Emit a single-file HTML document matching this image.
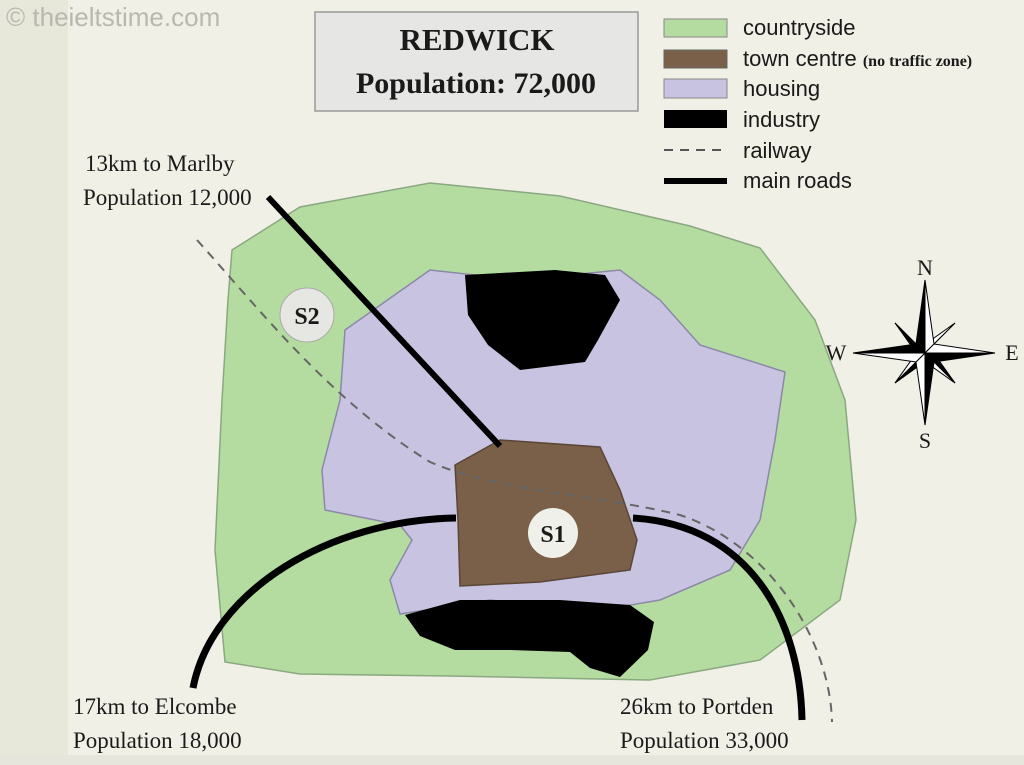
<!DOCTYPE html>
<html><head><meta charset="utf-8"><style>
html,body{margin:0;padding:0;background:#f0f0e6}
svg{display:block}
.sf{font-family:"Liberation Serif",serif;fill:#1a1a1a}
.ss{font-family:"Liberation Sans",sans-serif;fill:#1a1a1a}
</style></head><body>
<svg width="1024" height="765" viewBox="0 0 1024 765" xmlns="http://www.w3.org/2000/svg">
<rect width="1024" height="765" fill="#f0f0e6"/>
<rect width="68" height="765" fill="#e8e8da"/>
<rect y="755" width="1024" height="10" fill="#e6e6dc"/>
<text x="6" y="26" class="ss" style="fill:#b8b8b0" font-size="26">© theieltstime.com</text>
<!-- title -->
<rect x="315" y="12" width="323" height="99" fill="#e6e6e4" stroke="#999" stroke-width="1.5"/>
<text x="477" y="50" class="sf" font-size="31" font-weight="bold" text-anchor="middle">REDWICK</text>
<text x="476" y="93" class="sf" font-size="30" font-weight="bold" text-anchor="middle">Population: 72,000</text>
<!-- legend -->
<rect x="664" y="19" width="63" height="18" fill="#b5dca0" stroke="#888"/>
<rect x="664" y="50" width="63" height="18" fill="#7a6048" stroke="#666"/>
<rect x="664" y="79" width="63" height="19" fill="#c7c3e0" stroke="#888"/>
<rect x="664" y="110" width="63" height="18" fill="#000"/>
<line x1="664" y1="150" x2="727" y2="150" stroke="#555" stroke-width="2" stroke-dasharray="9,7"/>
<line x1="664" y1="181" x2="727" y2="181" stroke="#000" stroke-width="6"/>
<text x="743" y="35" class="ss" font-size="22">countryside</text>
<text x="743" y="66" class="ss" font-size="22">town centre <tspan class="sf" font-size="16" font-weight="bold">(no traffic zone)</tspan></text>
<text x="743" y="96" class="ss" font-size="22">housing</text>
<text x="743" y="127" class="ss" font-size="22">industry</text>
<text x="743" y="158" class="ss" font-size="22">railway</text>
<text x="743" y="188" class="ss" font-size="22">main roads</text>
<!-- countryside -->
<path d="M232,250 L300,207 L430,183 L560,196 L690,226 L760,248 L815,320 L845,400 L856,520 L840,600 L760,660 L650,680 L450,676 L300,674 L225,662 L215,550 L222,400 L228,300 Z" fill="#b5dca0" stroke="#8aa880" stroke-width="1.5"/>
<!-- housing -->
<path d="M345,330 L430,270 L520,280 L620,270 L660,300 L700,345 L785,372 L775,440 L760,520 L730,570 L660,600 L590,612 L490,600 L400,614 L390,580 L412,540 L400,525 L325,510 L322,470 L340,400 Z" fill="#c7c3e0" stroke="#8c88a8" stroke-width="1.5"/>
<!-- industry -->
<path d="M465,275 L555,270 L605,275 L620,300 L598,340 L585,362 L520,370 L488,345 L468,315 Z" fill="#000"/>
<path d="M405,615 L460,600 L560,600 L630,605 L654,622 L648,650 L620,677 L590,668 L570,652 L510,650 L455,650 L420,636 Z" fill="#000"/>
<!-- town centre -->
<path d="M455,465 L500,440 L600,447 L620,490 L637,540 L630,570 L540,582 L460,586 L458,520 Z" fill="#7a6048" stroke="#5a4636" stroke-width="1.5"/>
<!-- railway -->
<path d="M197,240 C260,310 330,400 430,462 C500,492 600,495 680,515 C770,545 830,640 832,722" fill="none" stroke="#666" stroke-width="2" stroke-dasharray="9,7"/>
<!-- roads -->
<line x1="268" y1="197" x2="500" y2="446" stroke="#000" stroke-width="6"/>
<path d="M193,688 C212,590 330,520 456,518" fill="none" stroke="#000" stroke-width="7"/>
<path d="M633,518 C750,525 800,620 802,720" fill="none" stroke="#000" stroke-width="7"/>
<!-- sites -->
<circle cx="553" cy="533" r="25" fill="#f0f0ea"/>
<text x="553" y="542" class="sf" font-size="24" font-weight="bold" text-anchor="middle">S1</text>
<circle cx="307" cy="315" r="27" fill="#e6e6e2" stroke="#aaa"/>
<text x="307" y="324" class="sf" font-size="24" font-weight="bold" text-anchor="middle">S2</text>
<!-- labels -->
<text x="85" y="171" class="sf" font-size="23">13km to Marlby</text>
<text x="83" y="205" class="sf" font-size="23">Population 12,000</text>
<text x="73" y="714" class="sf" font-size="23">17km to Elcombe</text>
<text x="73" y="748" class="sf" font-size="23">Population 18,000</text>
<text x="620" y="714" class="sf" font-size="23">26km to Portden</text>
<text x="620" y="748" class="sf" font-size="23">Population 33,000</text>
<!-- compass -->
<g transform="translate(925,353)" stroke="#000" stroke-width="1">
<polygon points="0,0 -30,-30 -6,-6" fill="#fff"/><polygon points="0,0 -30,-30 -10,-2" fill="#000"/>
<polygon points="0,0 30,-30 6,-6" fill="#000"/><polygon points="0,0 30,-30 2,-10" fill="#fff"/>
<polygon points="0,0 30,30 10,2" fill="#000"/><polygon points="0,0 30,30 2,10" fill="#fff"/>
<polygon points="0,0 -30,30 -2,10" fill="#000"/><polygon points="0,0 -30,30 -10,2" fill="#fff"/>
<polygon points="0,0 0,-73 -9,-9" fill="#000"/><polygon points="0,0 0,-73 9,-9" fill="#fff"/>
<polygon points="0,0 0,72 9,9" fill="#000"/><polygon points="0,0 0,72 -9,9" fill="#fff"/>
<polygon points="0,0 70,0 9,9" fill="#000"/><polygon points="0,0 70,0 9,-9" fill="#fff"/>
<polygon points="0,0 -72,0 -9,-9" fill="#000"/><polygon points="0,0 -72,0 -9,9" fill="#fff"/>
</g>
<text x="925" y="275" class="sf" font-size="22" text-anchor="middle">N</text>
<text x="925" y="448" class="sf" font-size="22" text-anchor="middle">S</text>
<text x="836" y="360" class="sf" font-size="22" text-anchor="middle">W</text>
<text x="1012" y="360" class="sf" font-size="22" text-anchor="middle">E</text>
</svg>
</body></html>
